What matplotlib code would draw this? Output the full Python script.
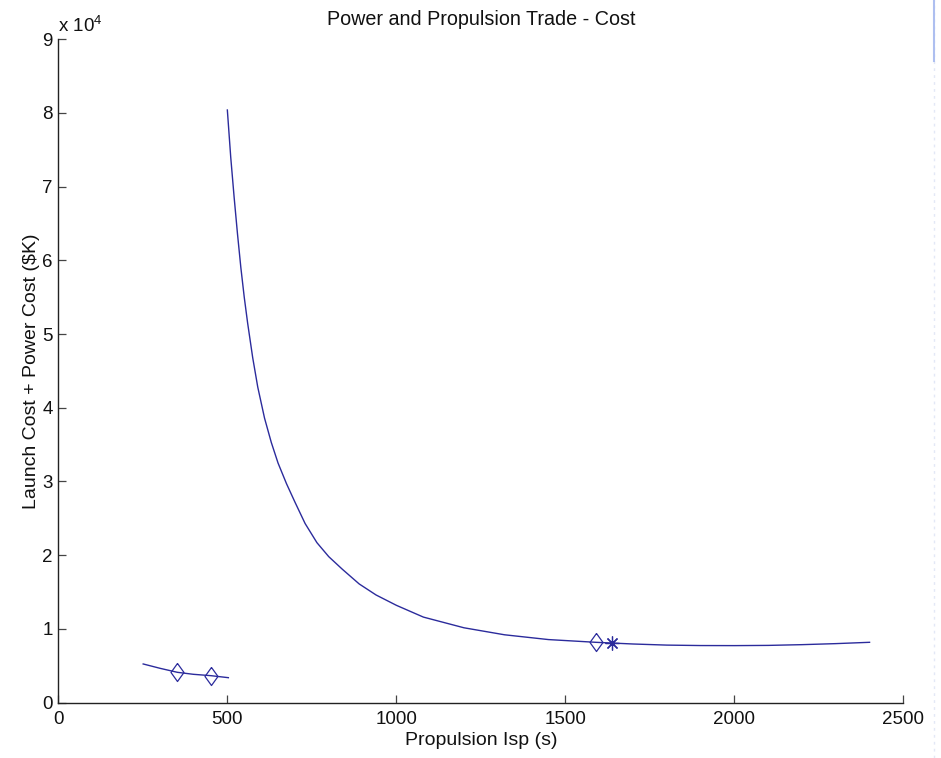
import matplotlib
matplotlib.use("Agg")
import matplotlib.pyplot as plt
from matplotlib.ticker import FuncFormatter
from matplotlib.lines import Line2D

plt.rcParams['font.family'] = ['Liberation Sans', 'DejaVu Sans']
plt.rcParams['mathtext.default'] = 'regular'

# main trade curve (Isp in s, cost in $K)
isp_main = [500, 510, 520, 530, 540, 550, 560, 575, 590, 610, 630, 650, 675,
            700, 730, 765, 800, 840, 890, 940, 1000, 1080, 1200, 1320, 1450,
            1590, 1700, 1800, 1900, 2000, 2100, 2200, 2300, 2400]
cost_main = [80400, 74000, 68600, 63600, 59000, 55000, 51500, 46800, 42800,
             38600, 35300, 32500, 29700, 27200, 24300, 21700, 19800, 18100,
             16100, 14600, 13200, 11600, 10150, 9200, 8550, 8180, 7950, 7800,
             7740, 7730, 7760, 7860, 8000, 8180]

# low-Isp branch
isp_low = [251, 301, 352, 399, 452, 503]
cost_low = [5240, 4650, 4110, 3840, 3650, 3380]

# marked design points
isp_diamond = [352, 452, 1591]
cost_diamond = [4110, 3650, 8180]
isp_star = [1638]
cost_star = [8050]

x_ticks = [0, 500, 1000, 1500, 2000, 2500]
y_ticks = [0, 10000, 20000, 30000, 40000, 50000, 60000, 70000, 80000, 90000]

line_color = '#2b2b9c'
# matlab style diamond, a bit narrower than tall
diamond = [(0, 1), (0.72, 0), (0, -1), (-0.72, 0), (0, 1)]

fig = plt.figure(figsize=(9.41, 7.58), dpi=100)
ax = fig.add_axes([0.062, 0.0731, 0.898, 0.8751])

ax.plot(isp_main, cost_main, color=line_color, lw=1.0)
ax.plot(isp_low, cost_low, color=line_color, lw=1.0)
ax.plot(isp_diamond, cost_diamond, linestyle='none', marker=diamond,
        markersize=13, markerfacecolor='none', markeredgecolor=line_color,
        markeredgewidth=0.9)
ax.plot(isp_star, cost_star, linestyle='none', marker=(8, 2, 0),
        markersize=10, markeredgecolor=line_color, markeredgewidth=0.9)

ax.set_xlim(0, 2500)
ax.set_ylim(0, 90000)
ax.set_xticks(x_ticks)
ax.set_yticks(y_ticks)
ax.yaxis.set_major_formatter(FuncFormatter(lambda v, p: f"{v / 1e4:g}"))

for side in ['top', 'right']:
    ax.spines[side].set_visible(False)
for side in ['left', 'bottom']:
    ax.spines[side].set_color('#222222')
    ax.spines[side].set_linewidth(1.0)

ax.tick_params(direction='in', length=6, width=0.9, color='#444444',
               labelsize=13.5, labelcolor='#111111')
ax.tick_params(axis='x', pad=6)
ax.tick_params(axis='y', pad=4)

ax.set_title('Power and Propulsion Trade - Cost', fontsize=14.2, pad=10,
             color='#111111')
ax.set_xlabel('Propulsion Isp (s)', fontsize=14, labelpad=3,
              color='#111111')
ax.set_ylabel('Launch Cost + Power Cost (\\$K)', fontsize=14, labelpad=2,
              color='#111111')

ax.text(0.0, 1.005, 'x 10$^4$', transform=ax.transAxes, fontsize=13.5,
        ha='left', va='bottom', color='#111111')

# faint screenshot edge on the right
fig.add_artist(Line2D([0.9925, 0.9925], [0.0, 1.0], transform=fig.transFigure,
                      color='#e3e8f6', lw=1.0, linestyle=(0, (2, 3))))
fig.add_artist(Line2D([0.9925, 0.9925], [0.92, 1.0], transform=fig.transFigure,
                      color='#aebff0', lw=1.5))

fig.savefig('out.png', dpi=100)
